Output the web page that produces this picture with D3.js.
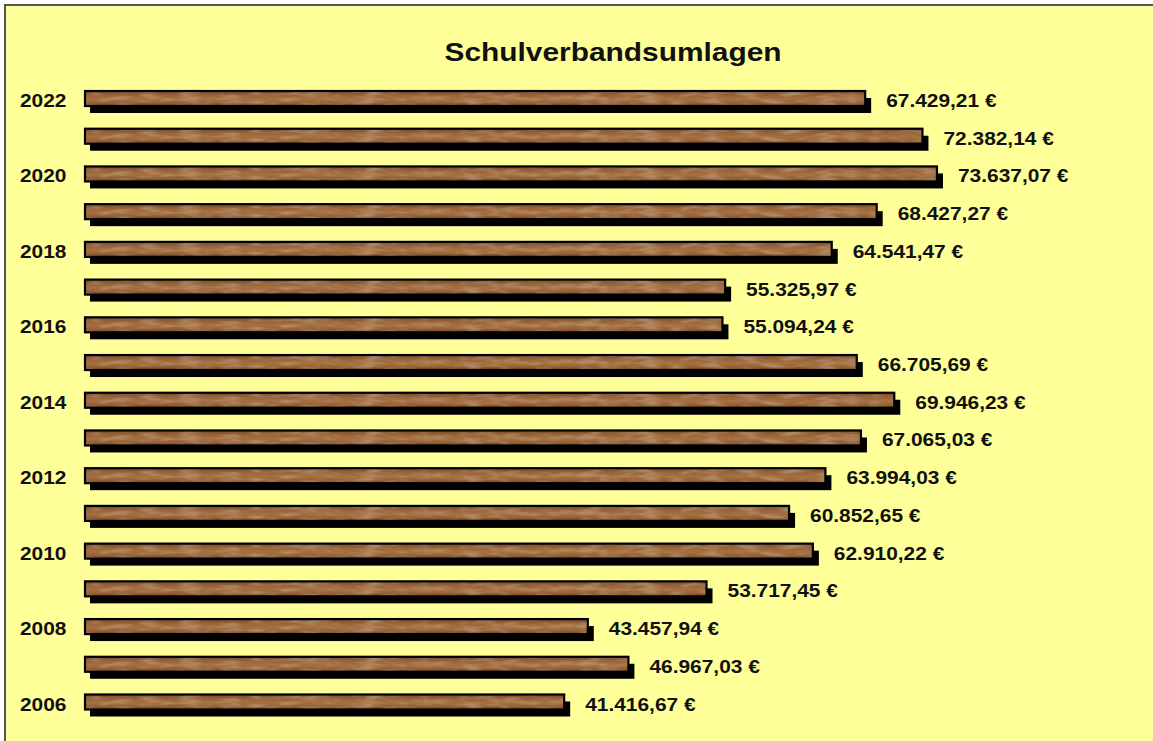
<!DOCTYPE html>
<html>
<head>
<meta charset="utf-8">
<script src="https://cdn.jsdelivr.net/npm/d3@7"></script>
<style>
  body { margin: 0; background: #fff; overflow: hidden; }
  .plot { position: absolute; left: 0; top: 0; }
</style>
</head>
<body>
<div class="plot"></div>
<script>
// Schulverbandsumlagen per Jahr
var years = [2022, 2021, 2020, 2019, 2018, 2017, 2016, 2015, 2014, 2013, 2012, 2011, 2010, 2009, 2008, 2007, 2006];
var amounts = [67429.21, 72382.14, 73637.07, 68427.27, 64541.47, 55325.97, 55094.24, 66705.69, 69946.23,
               67065.03, 63994.03, 60852.65, 62910.22, 53717.45, 43457.94, 46967.03, 41416.67];
var shownYears = [2022, 2020, 2018, 2016, 2014, 2012, 2010, 2008, 2006];
var title = "Schulverbandsumlagen";

var data = years.map(function(y, i) { return {year: y, value: amounts[i]}; });

var width = 1153;
var height = 741;
var barH = 15;

var fmt = d3.formatLocale({decimal: ",", thousands: ".", grouping: [3], currency: ["", " €"]});
var euro = fmt.format(",.2f");

var svg = d3.select(".plot").append("svg")
  .attr("width", width)
  .attr("height", height);

var defs = svg.append("defs");

// wood look: vertical gradient + soft grain
var grad = defs.append("linearGradient")
  .attr("id", "woodgrad")
  .attr("x1", 0).attr("y1", 0).attr("x2", 0).attr("y2", 1);
[["0%", "#7a4b26"], ["30%", "#98643a"], ["55%", "#a6713f"], ["80%", "#946037"], ["100%", "#6e421f"]]
  .forEach(function(s) { grad.append("stop").attr("offset", s[0]).attr("stop-color", s[1]); });

var filt = defs.append("filter").attr("id", "grain")
  .attr("x", 0).attr("y", 0).attr("width", 1).attr("height", 1);
filt.append("feTurbulence")
  .attr("type", "fractalNoise")
  .attr("baseFrequency", "0.05 0.2")
  .attr("numOctaves", 2)
  .attr("seed", 4)
  .attr("result", "noise");
filt.append("feColorMatrix")
  .attr("in", "noise")
  .attr("type", "matrix")
  .attr("values", "0 0 0 0 0.72  0 0 0 0 0.52  0 0 0 0 0.32  0.9 0 0 0 -0.4")
  .attr("result", "grainc");
filt.append("feGaussianBlur")
  .attr("in", "grainc")
  .attr("stdDeviation", "1.5 0.7")
  .attr("result", "soft");
filt.append("feComposite")
  .attr("in", "soft")
  .attr("in2", "SourceGraphic")
  .attr("operator", "atop");

// background + frame
svg.append("rect")
  .attr("x", 5).attr("y", 5)
  .attr("width", width + 20).attr("height", height + 20)
  .attr("fill", "#ffff99")
  .attr("stroke", "#555")
  .attr("stroke-width", 2);

var x = d3.scaleLinear()
  .domain([0, 80000])
  .range([85, 1010.6]);

var y = d3.scalePoint()
  .domain(years)
  .range([98.5, 702]);

svg.append("text")
  .attr("transform", "translate(613,61) scale(1.15,1)")
  .attr("text-anchor", "middle")
  .style("font", "bold 26px 'Liberation Sans', Arial, sans-serif")
  .style("fill", "#111")
  .text(title);

var rows = svg.append("g")
  .selectAll("g")
  .data(data)
  .join("g")
  .attr("transform", function(d) { return "translate(0," + (y(d.year) - barH / 2) + ")"; });

// shadow
rows.append("rect")
  .attr("x", x(0) + 5)
  .attr("y", 7)
  .attr("width", function(d) { return x(d.value) - x(0) + 1; })
  .attr("height", barH)
  .attr("fill", "#000");

// wood
rows.append("rect")
  .attr("x", x(0))
  .attr("y", 0)
  .attr("width", function(d) { return x(d.value) - x(0); })
  .attr("height", barH)
  .attr("fill", "url(#woodgrad)")
  .attr("filter", "url(#grain)");

// outline
rows.append("rect")
  .attr("x", x(0))
  .attr("y", 0)
  .attr("width", function(d) { return x(d.value) - x(0); })
  .attr("height", barH)
  .attr("fill", "none")
  .attr("stroke", "#000")
  .attr("stroke-width", 2.2);

rows.append("text")
  .attr("transform", function(d) { return "translate(" + (x(d.value) + 21) + "," + (barH / 2 + 8.5) + ") scale(1.1,1)"; })
  .style("font", "bold 19px 'Liberation Sans', Arial, sans-serif")
  .style("fill", "#111")
  .text(function(d) { return euro(d.value) + " €"; });

rows.filter(function(d) { return shownYears.includes(d.year); })
  .append("text")
  .attr("transform", "translate(20," + (barH / 2 + 8.5) + ") scale(1.1,1)")
  .style("font", "bold 19px 'Liberation Sans', Arial, sans-serif")
  .style("fill", "#111")
  .text(function(d) { return d.year; });
</script>
</body>
</html>
